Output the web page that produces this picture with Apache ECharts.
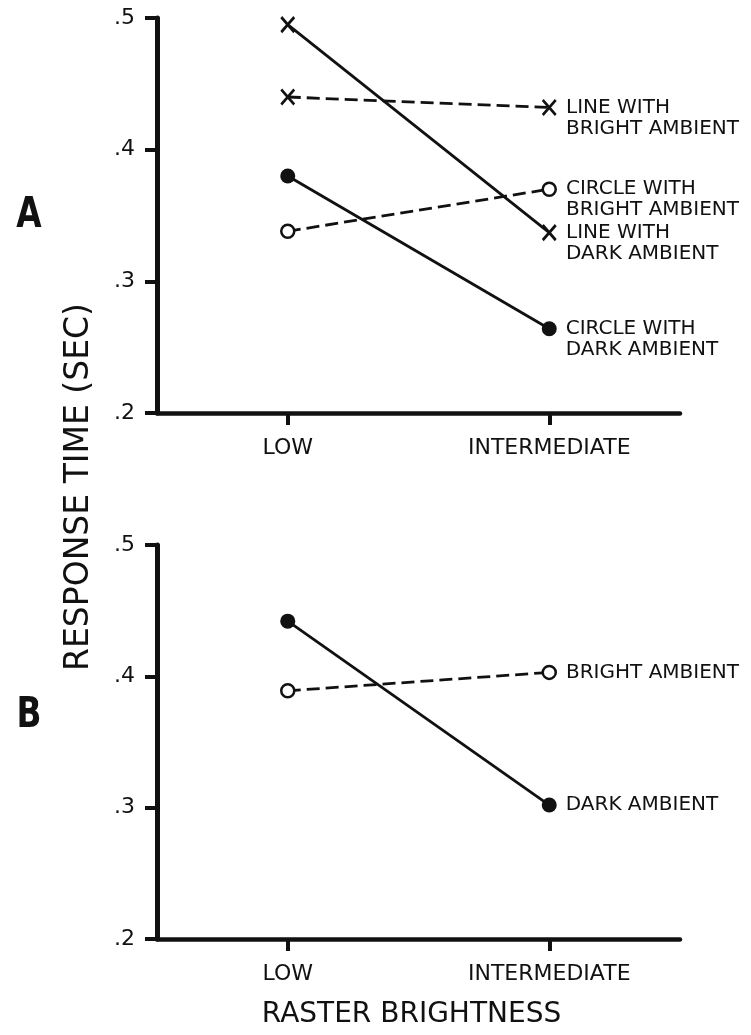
<!DOCTYPE html>
<html>
<head>
<meta charset="utf-8">
<script src="https://cdn.jsdelivr.net/npm/echarts@6/dist/echarts.min.js"></script>
<style>
html,body{margin:0;padding:0;background:#fff;}
#c{width:751px;height:1035px;}
</style>
</head>
<body>
<div id="c"></div>
<script>
// ---- data ----
const categories = ['LOW', 'INTERMEDIATE'];
const yTickValues = [0.2, 0.3, 0.4, 0.5];
const yMin = 0.2, yMax = 0.5, yStep = 0.1;

// Panel A
const aLineDark = [0.495, 0.337];     // solid, X markers
const aLineBright = [0.440, 0.432];   // dashed, X markers
const aCircleBright = [0.338, 0.370]; // dashed, open circles
const aCircleDark = [0.380, 0.264];   // solid, filled circles
const aLabelLineDark = 'LINE WITH\nDARK AMBIENT';
const aLabelLineBright = 'LINE WITH\nBRIGHT AMBIENT';
const aLabelCircleBright = 'CIRCLE WITH\nBRIGHT AMBIENT';
const aLabelCircleDark = 'CIRCLE WITH\nDARK AMBIENT';

// Panel B
const bBright = [0.389, 0.403];       // dashed, open circles
const bDark = [0.442, 0.302];         // solid, filled circles
const bLabelBright = 'BRIGHT AMBIENT';
const bLabelDark = 'DARK AMBIENT';

const panelLetters = ['A', 'B'];
const yTitle = 'RESPONSE TIME (SEC)';
const xTitle = 'RASTER BRIGHTNESS';

// ---- styling ----
const FONT = 'DejaVu Sans';
const INK = '#111';
const X_SYMBOL = 'path://M0,0L12,14M12,0L0,14';

function endLabel(text, lines) {
  return {
    show: true,
    position: 'right',
    distance: 9,
    offset: [0, lines > 1 ? 10.5 : 0],
    formatter: text,
    fontFamily: FONT,
    fontSize: 20,
    lineHeight: 21,
    color: INK,
    align: 'left'
  };
}

function mkData(vals, labelText) {
  const lines = labelText.split('\n').length;
  return vals.map((v, i) => i === vals.length - 1
    ? { value: v, label: endLabel(labelText, lines) }
    : v);
}

function mkSeries(idx, vals, labelText, kind, dashed) {
  const s = {
    type: 'line',
    xAxisIndex: idx,
    yAxisIndex: idx,
    data: mkData(vals, labelText),
    showAllSymbol: true,
    lineStyle: { color: INK, width: 2.8, type: dashed ? [13, 6] : 'solid' },
    emphasis: { disabled: true },
    z: 3
  };
  if (kind === 'x') {
    s.symbol = X_SYMBOL;
    s.symbolSize = [13, 15];
    s.itemStyle = { color: 'rgba(0,0,0,0)', borderColor: INK, borderWidth: 2.8 };
  } else if (kind === 'open') {
    s.symbol = 'circle';
    s.symbolSize = 13;
    s.itemStyle = { color: '#fff', borderColor: INK, borderWidth: 2.5 };
  } else {
    s.symbol = 'circle';
    s.symbolSize = 15;
    s.itemStyle = { color: INK, borderColor: INK, borderWidth: 0 };
  }
  return s;
}

function xAxisCfg(idx, withName) {
  const a = {
    type: 'category',
    gridIndex: idx,
    data: categories,
    boundaryGap: true,
    axisLine: { show: true, lineStyle: { color: INK, width: 4.5 } },
    axisTick: { show: true, alignWithLabel: true, length: 12, lineStyle: { color: INK, width: 4 } },
    axisLabel: { fontFamily: FONT, fontSize: 22, color: INK, margin: 24 },
    splitLine: { show: false }
  };
  if (withName) {
    a.name = xTitle;
    a.nameLocation = 'middle';
    a.nameGap = 62;
    a.nameTextStyle = { fontFamily: FONT, fontSize: 28, color: INK, padding: [0, 14, 0, 0] };
  }
  return a;
}

function yAxisCfg(idx) {
  return {
    type: 'value',
    gridIndex: idx,
    min: yMin, max: yMax, interval: yStep,
    axisLine: { show: true, lineStyle: { color: INK, width: 5 } },
    axisTick: { show: true, length: 12, lineStyle: { color: INK, width: 4 } },
    axisLabel: {
      fontFamily: FONT, fontSize: 22, color: INK, margin: 22,
      padding: [8, 0, 0, 0],
      formatter: v => {
        const m = yTickValues.find(t => Math.abs(t - v) < 1e-9);
        return m === undefined ? '' : m.toFixed(1).replace(/^0/, '');
      }
    },
    splitLine: { show: false }
  };
}

const letterStyle = (t) => ({
  text: t, fontFamily: FONT, fontWeight: 'bold', fontSize: 42, fill: INK,
  textAlign: 'center', textVerticalAlign: 'middle'
});

const chart = echarts.init(document.getElementById('c'), null, { renderer: 'canvas' });
chart.setOption({
  animation: false,
  backgroundColor: '#fff',
  grid: [
    { left: 157, right: 71, top: 18, height: 395 },
    { left: 157, right: 71, top: 545, height: 394 }
  ],
  xAxis: [xAxisCfg(0, false), xAxisCfg(1, true)],
  yAxis: [yAxisCfg(0), yAxisCfg(1)],
  series: [
    mkSeries(0, aLineBright, aLabelLineBright, 'x', true),
    mkSeries(0, aLineDark, aLabelLineDark, 'x', false),
    mkSeries(0, aCircleDark, aLabelCircleDark, 'filled', false),
    mkSeries(0, aCircleBright, aLabelCircleBright, 'open', true),
    mkSeries(1, bDark, bLabelDark, 'filled', false),
    mkSeries(1, bBright, bLabelBright, 'open', true)
  ],
  graphic: [
    {
      type: 'text', x: 79, y: 487, rotation: Math.PI / 2,
      style: { text: yTitle, fontFamily: FONT, fontSize: 33, fill: INK, textAlign: 'center', textVerticalAlign: 'middle' }
    },
    { type: 'text', x: 29, y: 216, scaleX: 0.78, style: letterStyle(panelLetters[0]) },
    { type: 'text', x: 29, y: 716, scaleX: 0.78, style: letterStyle(panelLetters[1]) }
  ]
});
</script>
</body>
</html>
